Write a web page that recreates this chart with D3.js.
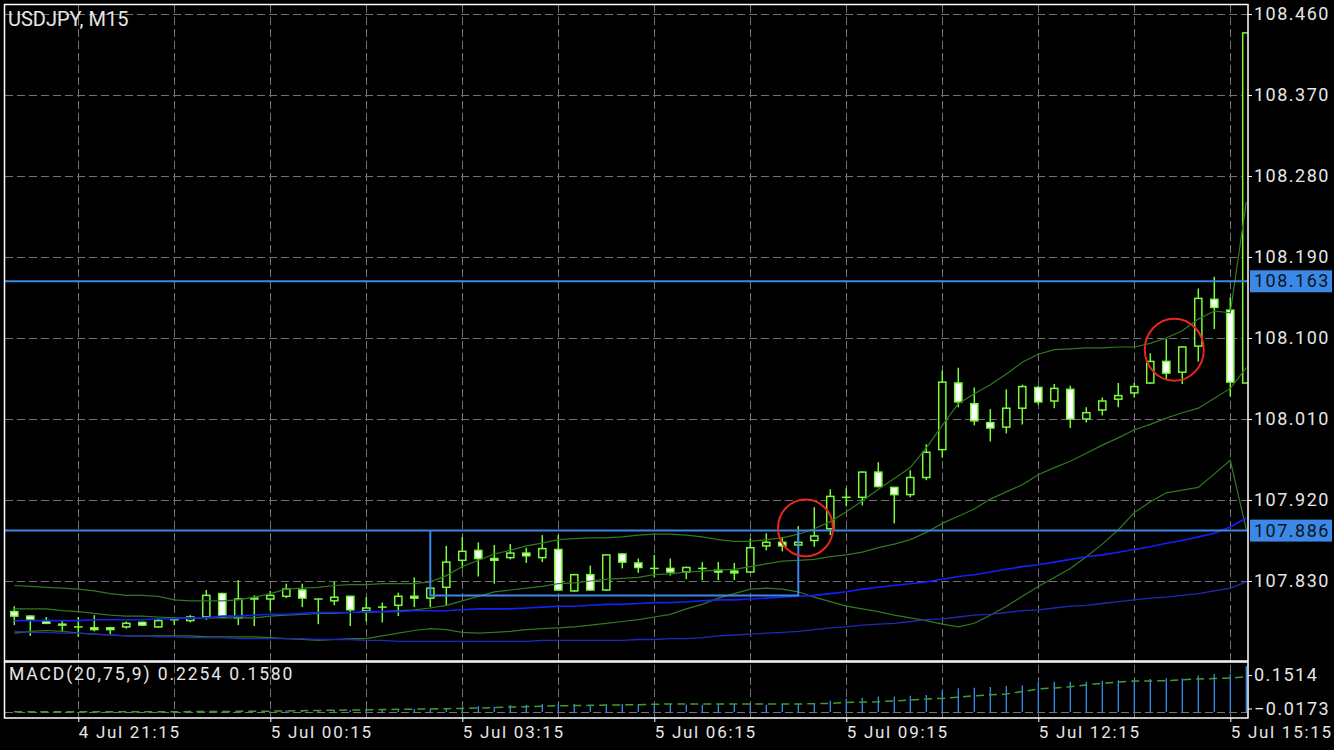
<!DOCTYPE html>
<html><head><meta charset="utf-8">
<script src="https://cdn.jsdelivr.net/npm/d3@7"></script>
<style>
html,body{margin:0;padding:0;background:#000;}
svg{display:block;}
text{font-family:Roboto,"Noto Sans",sans-serif;fill:#e6e6e6;}
</style></head><body>
<svg id="chart" width="1334" height="750"></svg>
<script>
// ---------------- DATA ----------------
const titleText = "USDJPY, M15";
const macdText = "MACD(20,75,9) 0.2254 0.1580";

// OHLC per bar (4 Jul 20:15 ... 5 Jul 15:30, M15)
const openP  = [107.796,107.791,107.786,107.782,107.779,107.778,107.778,107.779,107.784,107.779,
                107.787,107.786,107.790,107.816,107.789,107.811,107.810,107.813,107.820,107.810,
                107.808,107.813,107.797,107.801,107.803,107.813,107.811,107.823,107.853,107.864,
                107.855,107.856,107.861,107.856,107.865,107.819,107.837,107.820,107.860,107.850,
                107.844,107.844,107.840,107.844,107.842,107.841,107.840,107.869,107.873,107.870,
                107.875,107.888,107.923,107.923,107.951,107.934,107.926,107.945,107.976,108.050,
                108.027,108.006,108.001,108.022,108.045,108.030,108.043,108.010,108.020,108.032,
                108.039,108.050,108.074,108.062,108.091,108.143,108.131,108.050];
const highP  = [107.802,107.792,107.790,107.786,107.790,107.792,107.779,107.785,107.785,107.789,
                107.790,107.792,107.820,107.817,107.831,107.814,107.819,107.827,107.827,107.810,
                107.829,107.813,107.812,107.806,107.817,107.834,107.824,107.869,107.879,107.873,
                107.870,107.871,107.867,107.881,107.881,107.838,107.847,107.860,107.861,107.855,
                107.859,107.855,107.846,107.851,107.851,107.850,107.877,107.883,107.879,107.891,
                107.912,107.932,107.933,107.952,107.962,107.934,107.953,107.982,108.064,108.067,
                108.045,108.021,108.043,108.048,108.047,108.049,108.047,108.023,108.034,108.050,
                108.050,108.083,108.099,108.091,108.155,108.168,108.145,108.439];
const lowP   = [107.781,107.769,107.782,107.774,107.768,107.774,107.771,107.777,107.780,107.778,
                107.781,107.784,107.787,107.789,107.781,107.780,107.797,107.811,107.801,107.782,
                107.803,107.780,107.785,107.784,107.791,107.801,107.801,107.803,107.844,107.835,
                107.827,107.854,107.850,107.851,107.819,107.818,107.819,107.819,107.844,107.839,
                107.834,107.836,107.832,107.831,107.831,107.831,107.839,107.864,107.863,107.867,
                107.868,107.881,107.913,107.914,107.934,107.894,107.923,107.942,107.967,108.023,
                108.003,107.985,107.994,108.004,108.026,108.022,108.000,108.006,108.014,108.023,
                108.034,108.049,108.053,108.049,108.074,108.110,108.035,108.050];
const closeP = [107.791,107.787,107.783,107.781,107.779,107.776,107.776,107.783,107.781,107.786,
                107.787,107.790,107.814,107.790,107.810,107.810,107.814,107.821,107.811,107.810,
                107.812,107.798,107.800,107.801,107.813,107.811,107.822,107.851,107.863,107.855,
                107.853,107.861,107.858,107.866,107.820,107.837,107.820,107.859,107.851,107.845,
                107.844,107.840,107.845,107.844,107.840,107.839,107.867,107.873,107.869,107.873,
                107.880,107.924,107.923,107.951,107.935,107.926,107.945,107.973,108.051,108.029,
                108.008,108.000,108.022,108.046,108.029,108.044,108.010,108.017,108.030,108.036,
                108.046,108.074,108.061,108.090,108.144,108.134,108.051,108.439];

// Bollinger bands (green)
const bbUpper = [107.825,107.824,107.823,107.822,107.821,107.819,107.816,107.814,107.814,107.813,
                 107.809,107.808,107.808,107.808,107.809,107.812,107.816,107.821,107.822,107.823,
                 107.825,107.826,107.826,107.827,107.827,107.827,107.829,107.836,107.846,107.853,
                 107.860,107.864,107.869,107.872,107.876,107.877,107.878,107.878,107.879,107.881,
                 107.882,107.882,107.881,107.879,107.876,107.874,107.874,107.876,107.878,107.882,
                 107.888,107.896,107.907,107.919,107.932,107.944,107.956,107.978,108.003,108.027,
                 108.038,108.048,108.060,108.073,108.082,108.087,108.088,108.089,108.089,108.090,
                 108.090,108.094,108.100,108.108,108.121,108.130,108.128,108.251];
const bbMiddle = [107.799,107.799,107.799,107.797,107.796,107.794,107.792,107.791,107.791,107.790,
                  107.789,107.789,107.789,107.789,107.789,107.789,107.791,107.792,107.793,107.794,
                  107.794,107.795,107.795,107.796,107.797,107.798,107.800,107.803,107.808,107.813,
                  107.818,107.820,107.822,107.824,107.827,107.828,107.830,107.832,107.833,107.834,
                  107.837,107.838,107.840,107.841,107.842,107.843,107.846,107.849,107.852,107.853,
                  107.854,107.857,107.859,107.862,107.867,107.871,107.876,107.884,107.894,107.902,
                  107.910,107.921,107.929,107.937,107.948,107.956,107.963,107.972,107.981,107.989,
                  107.998,108.004,108.011,108.017,108.022,108.033,108.044,108.067];
const bbLower = [107.772,107.774,107.775,107.774,107.772,107.771,107.770,107.769,107.769,107.769,
                 107.769,107.769,107.768,107.768,107.768,107.768,107.767,107.766,107.765,107.764,
                 107.765,107.766,107.766,107.769,107.772,107.775,107.777,107.776,107.773,107.772,
                 107.773,107.774,107.776,107.777,107.778,107.779,107.781,107.783,107.785,107.787,
                 107.790,107.793,107.799,107.804,107.811,107.816,107.821,107.822,107.821,107.818,
                 107.812,107.807,107.802,107.799,107.796,107.792,107.789,107.786,107.782,107.779,
                 107.783,107.792,107.802,107.813,107.824,107.834,107.844,107.857,107.871,107.887,
                 107.906,107.918,107.928,107.931,107.934,107.949,107.964,107.887];
// Moving averages (blue)
const maFast = [107.786,107.786,107.786,107.786,107.786,107.787,107.787,107.787,107.787,107.788,
                107.788,107.789,107.789,107.791,107.791,107.792,107.793,107.793,107.794,107.795,
                107.795,107.795,107.796,107.796,107.796,107.797,107.797,107.797,107.798,107.799,
                107.799,107.799,107.800,107.801,107.802,107.802,107.803,107.804,107.804,107.805,
                107.806,107.806,107.807,107.808,107.809,107.809,107.810,107.811,107.812,107.813,
                107.814,107.816,107.818,107.821,107.823,107.825,107.827,107.829,107.832,107.835,
                107.837,107.840,107.843,107.846,107.848,107.851,107.854,107.857,107.859,107.862,
                107.865,107.868,107.872,107.875,107.879,107.883,107.890,107.900];
const maSlow = [107.774,107.773,107.773,107.772,107.772,107.771,107.770,107.769,107.769,107.768,
                107.768,107.767,107.767,107.767,107.766,107.766,107.766,107.766,107.766,107.765,
                107.765,107.765,107.764,107.764,107.763,107.763,107.763,107.763,107.763,107.763,
                107.763,107.763,107.763,107.764,107.764,107.764,107.764,107.764,107.764,107.765,
                107.765,107.766,107.766,107.767,107.769,107.770,107.771,107.772,107.773,107.774,
                107.776,107.778,107.779,107.781,107.782,107.783,107.785,107.787,107.788,107.790,
                107.792,107.793,107.795,107.797,107.798,107.800,107.802,107.803,107.805,107.807,
                107.809,107.811,107.812,107.814,107.816,107.819,107.822,107.829];
// MACD(20,75,9)
const macdHist = [0.002,0.001,0.001,0.000,-0.001,-0.002,-0.004,-0.004,-0.004,-0.003,
                  -0.002,0.001,0.002,0.002,0.003,0.003,0.004,0.007,0.008,0.008,
                  0.009,0.009,0.010,0.011,0.013,0.014,0.015,0.017,0.021,0.027,
                  0.024,0.031,0.031,0.036,0.036,0.036,0.031,0.031,0.036,0.036,
                  0.036,0.036,0.033,0.033,0.036,0.036,0.036,0.031,0.035,0.037,
                  0.040,0.051,0.061,0.064,0.069,0.069,0.073,0.076,0.097,0.106,
                  0.109,0.112,0.117,0.120,0.131,0.136,0.136,0.136,0.139,0.142,
                  0.142,0.148,0.151,0.151,0.163,0.170,0.170,0.2254];
const macdSignal = [0.001,0.001,0.001,0.001,0.001,0.001,0.001,0.001,0.001,0.001,
                    0.001,0.002,0.002,0.002,0.003,0.003,0.004,0.005,0.006,0.007,
                    0.008,0.009,0.010,0.011,0.012,0.013,0.014,0.015,0.016,0.018,
                    0.020,0.022,0.024,0.026,0.028,0.029,0.030,0.031,0.032,0.033,
                    0.035,0.036,0.036,0.036,0.036,0.036,0.036,0.036,0.036,0.036,
                    0.037,0.039,0.043,0.044,0.046,0.050,0.054,0.058,0.061,0.066,
                    0.073,0.077,0.081,0.092,0.103,0.108,0.113,0.121,0.129,0.134,
                    0.139,0.139,0.140,0.144,0.148,0.150,0.152,0.158];

const priceTicks = [108.460,108.370,108.280,108.190,108.100,108.010,107.920,107.830];
const macdTicks = [0.1514,-0.0173];
const timeTickIdx = [4,16,28,40,52,64,76];
const timeTickLabels = ["4 Jul 21:15","5 Jul 00:15","5 Jul 03:15","5 Jul 06:15","5 Jul 09:15","5 Jul 12:15","5 Jul 15:15"];
const gridIdx = [4,10,16,22,28,34,40,46,52,58,64,70,76];
const hLevels = [108.163,107.886];
const boxStartIdx = [26], boxEndIdx = [49], boxTop = [107.886], boxBottom = [107.814];
const circleIdx = [49.45,72.5], circlePrice = [107.889,108.087];

// ---------------- LAYOUT / STYLE ----------------
const L=4.5, R=1248, T=4.5, MB=661, MT=662, BB=718;
const lime="#79fa3a", gridCol="#737373", bandCol="#2f7a22", blueLine="#3b88e6";
const svg = d3.select("#chart");
svg.append("rect").attr("width",1334).attr("height",750).attr("fill","#000");

const n = closeP.length;
const x = d3.scaleLinear().domain([0,77]).range([14.3,1246.3]);
const y = d3.scaleLinear().domain([107.830,108.460]).range([581,14]);
const my = d3.scaleLinear().domain([-0.0173,0.1514]).range([715.9,678.2]);
const myLabel = d3.scaleLinear().domain([-0.0173,0.1514]).range([708.5,675]);

const defs = svg.append("defs");
defs.append("clipPath").attr("id","cMain").append("rect").attr("x",L+0.5).attr("y",T+0.5).attr("width",R-L-1).attr("height",MB-T-0.5);
defs.append("clipPath").attr("id","cMacd").append("rect").attr("x",L+0.5).attr("y",666).attr("width",R-L-1).attr("height",BB-666-0.5);

// grid
const grid = svg.append("g").attr("stroke",gridCol).attr("stroke-width",1).attr("stroke-dasharray","8,4").attr("shape-rendering","crispEdges");
grid.selectAll("line.v").data(gridIdx).join("line").attr("class","v")
  .attr("x1",d=>Math.round(x(d))+0.5).attr("x2",d=>Math.round(x(d))+0.5).attr("y1",T).attr("y2",BB);
grid.selectAll("line.h").data(priceTicks).join("line").attr("class","h")
  .attr("x1",L).attr("x2",R).attr("y1",d=>Math.round(y(d))+0.5).attr("y2",d=>Math.round(y(d))+0.5);
grid.append("line").attr("x1",L).attr("x2",R).attr("y1",Math.round(my(0))+0.5).attr("y2",Math.round(my(0))+0.5);

// main plot
const main = svg.append("g").attr("clip-path","url(#cMain)");
const idx = d3.range(n);
// candles
const cg = main.append("g");
cg.selectAll("line.w").data(idx).join("line").attr("class","w")
  .attr("x1",i=>x(i)).attr("x2",i=>x(i)).attr("y1",i=>y(highP[i])).attr("y2",i=>y(lowP[i]))
  .attr("stroke",lime).attr("stroke-width",1.5);
cg.selectAll("rect.b").data(idx).join("rect").attr("class","b")
  .attr("x",i=>x(i)-3.6).attr("width",7.2)
  .attr("y",i=>y(Math.max(openP[i],closeP[i])))
  .attr("height",i=>Math.max(0.01,Math.abs(y(openP[i])-y(closeP[i]))))
  .attr("fill",i=>closeP[i]>openP[i]?"#000":"#fff")
  .attr("stroke",lime).attr("stroke-width",1.5);

// indicator lines
const ln = arr => d3.line().x((d,i)=>x(i)).y(d=>y(d))(arr);
[bbUpper,bbMiddle,bbLower].forEach(a=>main.append("path").attr("d",ln(a)).attr("fill","none").attr("stroke",bandCol).attr("stroke-width",1.2));
main.append("path").attr("d",ln(maSlow)).attr("fill","none").attr("stroke","#2228b8").attr("stroke-width",1.3);
main.append("path").attr("d",ln(maFast)).attr("fill","none").attr("stroke","#1420f5").attr("stroke-width",1.6);

// objects
const og = main.append("g").attr("fill","none").attr("stroke",blueLine).attr("stroke-width",2);
og.selectAll("line.hl").data(hLevels).join("line").attr("class","hl")
  .attr("x1",L).attr("x2",R).attr("y1",d=>y(d)).attr("y2",d=>y(d));
og.selectAll("path.box").data(boxStartIdx).join("path").attr("class","box")
  .attr("d",(d,i)=>`M${x(d)},${y(boxTop[i])}V${y(boxBottom[i])}H${x(boxEndIdx[i])}V${y(boxTop[i])}`);
main.selectAll("ellipse").data(circleIdx).join("ellipse")
  .attr("cx",d=>x(d)).attr("cy",(d,i)=>y(circlePrice[i]))
  .attr("rx",(d,i)=>i===0?27.5:29.5).attr("ry",(d,i)=>i===0?28.5:31)
  .attr("fill","none").attr("stroke","#e8261e").attr("stroke-width",2);

// MACD panel
const mg = svg.append("g").attr("clip-path","url(#cMacd)");
mg.selectAll("line.h").data(idx).join("line").attr("class","h")
  .attr("x1",i=>x(i)).attr("x2",i=>x(i)).attr("y1",my(0)).attr("y2",i=>my(macdHist[i]))
  .attr("stroke","#3a8cf0").attr("stroke-width",1.3);
mg.append("path").attr("d",d3.line().x((d,i)=>x(i)).y(d=>my(d))(macdSignal))
  .attr("fill","none").attr("stroke","#3d9e2c").attr("stroke-width",1.5).attr("stroke-dasharray","8,5");

// frames
const fr = svg.append("g").attr("fill","none").attr("stroke","#fff").attr("stroke-width",1.5);
fr.append("rect").attr("x",L).attr("y",T).attr("width",R-L).attr("height",MB-T);
fr.append("rect").attr("x",L).attr("y",MT).attr("width",R-L).attr("height",BB-MT);

// price axis
const ay = svg.append("g").attr("transform",`translate(${R},0)`)
  .call(d3.axisRight(y).tickValues(priceTicks).tickSize(4).tickPadding(2).tickFormat(d3.format(".3f")));
ay.select(".domain").remove();
ay.selectAll("line").attr("stroke","#fff");
ay.selectAll("text").attr("fill","#e6e6e6").style("font-size","18px").style("letter-spacing","1.5px");

// level labels
const lb = svg.append("g");
lb.selectAll("rect").data(hLevels).join("rect")
  .attr("x",1250).attr("width",82).attr("y",d=>y(d)-11).attr("height",22).attr("fill",blueLine);
lb.selectAll("text").data(hLevels).join("text")
  .attr("x",1254).attr("y",d=>y(d)).attr("dy","0.34em").text(d=>d.toFixed(3))
  .style("font-size","18px").style("letter-spacing","1.5px").style("fill","#0d1522");

// macd axis
const am = svg.append("g").attr("transform",`translate(${R},0)`)
  .call(d3.axisRight(myLabel).tickValues(macdTicks).tickSize(4).tickPadding(2).tickFormat(d3.format(".4f")));
am.select(".domain").remove();
am.selectAll("line").attr("stroke","#fff");
am.selectAll("text").attr("fill","#e6e6e6").style("font-size","18px").style("letter-spacing","1.5px");

// time axis
const ax = svg.append("g").attr("transform",`translate(0,${BB})`)
  .call(d3.axisBottom(x).tickValues(timeTickIdx).tickSize(4).tickPadding(4).tickFormat((d,i)=>timeTickLabels[i]));
ax.select(".domain").remove();
ax.selectAll("line").attr("stroke","#fff");
ax.selectAll("text").attr("text-anchor","start").attr("fill","#e6e6e6").style("font-size","17px").style("letter-spacing","1.7px");

// titles
svg.append("text").attr("x",8).attr("y",26).text(titleText).style("font-size","20px").style("letter-spacing","0px");
svg.append("text").attr("x",9).attr("y",680).text(macdText).style("font-size","17.5px").style("letter-spacing","1.9px");
</script>
</body></html>
